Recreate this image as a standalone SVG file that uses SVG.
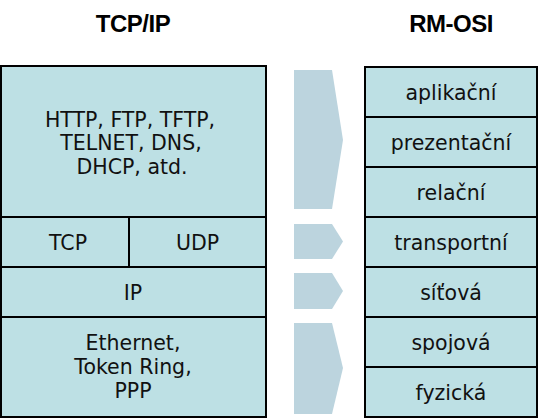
<svg xmlns="http://www.w3.org/2000/svg" width="540" height="420" viewBox="0 0 540 420">
<style>
.box{fill:#bde0e4;stroke:#000;stroke-width:2}
.arr{fill:#bcd4de}
.t{font-family:"DejaVu Sans",Verdana,sans-serif;font-size:20.5px;fill:#111;text-anchor:middle}
.h{font-family:"Liberation Sans",Arial,sans-serif;font-size:24px;font-weight:bold;fill:#000;text-anchor:middle;letter-spacing:-0.5px}
</style>
<rect width="540" height="420" fill="#fff"/>
<text class="h" x="133" y="32">TCP/IP</text>
<text class="h" x="451" y="32">RM-OSI</text>
<g id="tcpip">
  <g id="app"><rect class="box" x="1" y="66" width="265" height="151"/>
    <text class="t" x="130" y="127">HTTP, FTP, TFTP,</text>
    <text class="t" x="131" y="150">TELNET, DNS,</text>
    <text class="t" x="132" y="174">DHCP, atd.</text></g>
  <g id="tcp"><rect class="box" x="1" y="217" width="128" height="50"/><text class="t" x="68" y="250">TCP</text></g>
  <g id="udp"><rect class="box" x="129" y="217" width="137" height="50"/><text class="t" x="197.5" y="250">UDP</text></g>
  <g id="ip"><rect class="box" x="1" y="267" width="265" height="50"/><text class="t" x="133" y="300">IP</text></g>
  <g id="link"><rect class="box" x="1" y="317" width="265" height="100"/>
    <text class="t" x="133" y="350">Ethernet,</text>
    <text class="t" x="133" y="374">Token Ring,</text>
    <text class="t" x="133" y="398">PPP</text></g>
</g>
<g id="connectors">
  <polygon class="arr" points="294,70 332,70 343,140 332,209 294,209"/>
  <polygon class="arr" points="294,224 332,224 343,241.5 332,259 294,259"/>
  <polygon class="arr" points="294,273 332,273 343,291 332,309 294,309"/>
  <polygon class="arr" points="294,323 332,323 343,368 332,414 294,414"/>
</g>
<g id="osi">
  <g id="l7"><rect class="box" x="365" y="67" width="172" height="50"/><text class="t" x="451" y="100">aplikační</text></g>
  <g id="l6"><rect class="box" x="365" y="117" width="172" height="50"/><text class="t" x="451" y="150">prezentační</text></g>
  <g id="l5"><rect class="box" x="365" y="167" width="172" height="50"/><text class="t" x="451" y="200">relační</text></g>
  <g id="l4"><rect class="box" x="365" y="217" width="172" height="50"/><text class="t" x="451" y="250">transportní</text></g>
  <g id="l3"><rect class="box" x="365" y="267" width="172" height="50"/><text class="t" x="451" y="300">síťová</text></g>
  <g id="l2"><rect class="box" x="365" y="317" width="172" height="50"/><text class="t" x="451" y="350">spojová</text></g>
  <g id="l1"><rect class="box" x="365" y="367" width="172" height="50"/><text class="t" x="451" y="400">fyzická</text></g>
</g>
</svg>
